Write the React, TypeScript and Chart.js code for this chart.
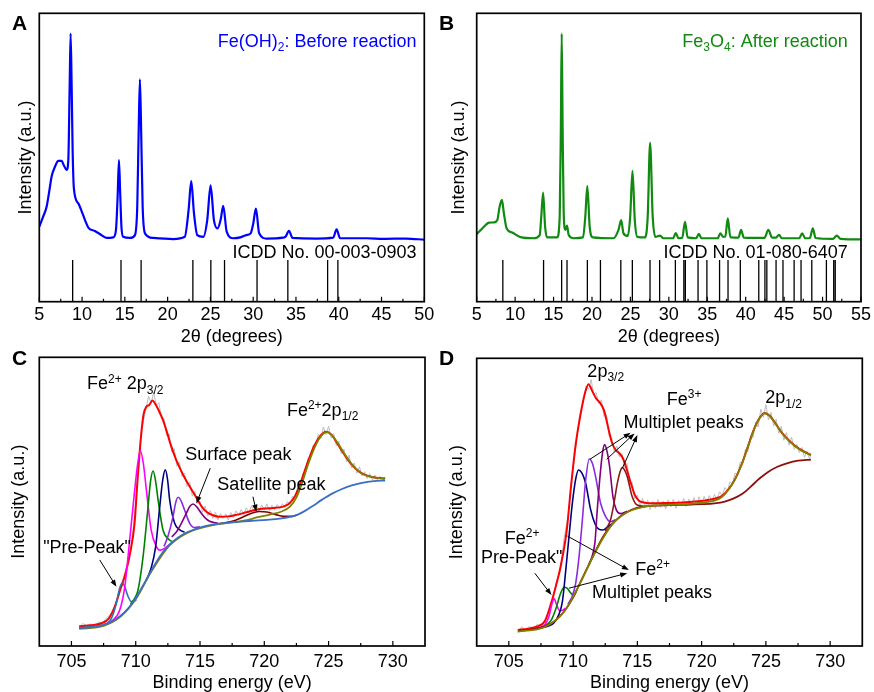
import React, { useEffect, useRef } from 'react';
import { Chart, registerables } from 'chart.js';

Chart.register(...registerables);

const FONT = '"Liberation Sans", Arial, Helvetica, sans-serif';

// ---------------- Panel A : XRD Fe(OH)2 ----------------
const A_TICKS = [5, 10, 15, 20, 25, 30, 35, 40, 45, 50];
const A_MINOR = [7.5, 12.5, 17.5, 22.5, 27.5, 32.5, 37.5, 42.5, 47.5];
const A_CURVE = [
  [5.0, 26.0], [5.45, 29.5], [5.86, 33], [6.2, 39], [6.44, 43.4], [6.83, 46.8], [7.22, 48.8], [7.61, 48.8],
  [7.88, 47.2], [8.19, 45.7], [8.39, 49], [8.55, 75], [8.66, 93], [8.78, 75], [8.9, 52], [9.05, 39],
  [9.56, 34.1], [10.0, 31], [10.34, 28.3], [10.73, 25.7], [11.5, 24.5], [12.1, 23.4], [12.87, 22.1],
  [13.65, 22.3], [13.96, 24.9], [14.15, 36], [14.31, 49.1], [14.45, 38], [14.6, 26], [14.8, 22.5],
  [15.6, 22.1], [16.18, 23.1], [16.45, 33], [16.62, 60], [16.76, 77.1], [16.9, 60], [17.08, 33],
  [17.35, 23.7], [18.3, 22.1], [20.66, 21.7], [22.0, 22.5], [22.45, 31.8], [22.76, 41.8], [23.08, 30.6],
  [23.46, 23.1], [24.17, 22.5], [24.63, 28.3], [25.02, 40.3], [25.41, 28.3], [25.84, 25.4], [26.2, 28.5],
  [26.5, 33.2], [26.9, 24.3], [27.67, 22], [28.6, 22.4], [29.2, 23.1], [29.7, 23.7], [30.0, 27],
  [30.32, 32.3], [30.7, 23.7], [31.57, 21.9], [33.5, 22.2], [33.8, 22.6], [34.18, 24.6], [34.6, 22.1],
  [37.4, 21.9], [39.35, 22.2], [39.75, 25.1], [40.15, 22], [43.3, 22], [45.2, 21.8], [47.9, 21.9], [50, 21.5],
];
const A_STICKS = [8.9, 14.55, 16.9, 22.95, 25.05, 26.65, 30.45, 34.05, 38.7, 39.9];

// ---------------- Panel B : XRD Fe3O4 ----------------
const B_TICKS = [5, 10, 15, 20, 25, 30, 35, 40, 45, 50, 55];
const B_MINOR = [7.5, 12.5, 17.5, 22.5, 27.5, 32.5, 37.5, 42.5, 47.5, 52.5];
const B_CURVE = [
  [5.0, 23.4], [5.5, 24.8], [5.95, 26], [6.6, 27.4], [7.25, 27.5], [7.68, 28.3], [7.98, 32.9], [8.28, 35.3],
  [8.54, 30.6], [8.9, 25.4], [9.62, 24], [10.7, 22.4], [12.43, 22], [13.2, 23.1], [13.4, 29.5], [13.64, 37.8],
  [13.9, 26], [14.16, 22.3], [15.46, 22.3], [15.8, 29.5], [15.95, 60], [16.06, 93], [16.18, 60], [16.32, 30.6],
  [16.54, 24.9], [16.75, 26.4], [16.97, 23.1], [17.6, 22], [18.83, 22.3], [19.13, 29.5], [19.39, 40.1],
  [19.7, 26], [20.1, 22.3], [22.8, 22], [23.45, 24.9], [23.8, 28.3], [24.1, 23.7], [24.66, 22.8],
  [24.97, 29.5], [25.27, 45.4], [25.57, 28.3], [25.9, 22.5], [26.9, 22.3], [27.25, 29.5], [27.56, 55.1],
  [27.9, 29.5], [28.25, 22.5], [28.85, 22.9], [29.3, 22], [30.55, 22], [30.9, 23.8], [31.25, 22],
  [31.75, 22.2], [32.1, 27.7], [32.45, 22.3], [33.55, 22], [33.9, 23.5], [34.25, 22], [36.35, 22],
  [36.7, 23.7], [37.05, 22.5], [37.35, 22.6], [37.67, 28.9], [38.0, 22.4], [39.05, 22.2], [39.4, 24.9],
  [39.75, 22.2], [42.45, 22.1], [42.94, 24.9], [43.45, 22.2], [43.95, 22.2], [44.33, 23.2], [44.7, 22],
  [46.95, 22], [47.35, 23.7], [47.75, 22], [48.35, 22.1], [48.73, 25.4], [49.1, 22.1], [51.35, 21.8],
  [51.85, 22.9], [52.35, 21.8], [55, 21.6],
];
const B_STICKS = [
  8.4, 13.7, 16.05, 16.75, 19.4, 21.1, 23.75, 25.25, 27.55, 28.8, 30.85, 31.95, 32.15, 33.8, 34.95,
  36.6, 37.7, 39.3, 41.7, 42.5, 42.75, 43.95, 44.85, 46.3, 47.2, 48.6, 50.5, 51.45, 51.65,
];
const STICK_HEIGHT = 14.5;

// ---------------- XPS common ----------------
const XPS_TICKS = [705, 710, 715, 720, 725, 730];
const XPS_MINOR = [707.5, 712.5, 717.5, 722.5, 727.5];

// ---------------- Panel C : XPS Fe(OH)2 ----------------
const C_RAW = [
  [705.6, 6.5], [705.9, 7.8], [706.2, 6.9], [706.5, 7.6], [706.8, 7.0], [707.1, 8.3], [707.4, 7.9], [707.7, 9.6],
  [708.0, 10.8], [708.3, 12.6], [708.6, 17.5], [708.9, 21.2], [709.2, 26.1], [709.5, 30.8], [709.8, 40.5],
  [710.1, 55.8], [710.4, 73.5], [710.7, 80.2], [711.0, 86.5], [711.2, 84.1], [711.4, 88.0], [711.6, 83.2],
  [711.8, 84.3], [712.0, 79.1], [712.2, 78.8], [712.4, 72.9], [712.6, 73.5], [712.8, 67.2], [713.0, 68.4],
  [713.2, 62.3], [713.4, 63.8], [713.6, 58.6], [713.8, 59.9], [714.0, 55.2], [714.2, 56.8], [714.4, 51.9],
  [714.6, 53.6], [714.8, 49.4], [715.0, 50.1], [715.2, 46.3], [715.4, 48.5], [715.6, 45.0], [715.8, 46.9],
  [716.0, 44.2], [716.2, 46.3], [716.4, 43.7], [716.6, 45.9], [716.8, 44.1], [717.0, 45.8], [717.2, 43.6],
  [717.4, 46.2], [717.6, 44.5], [717.8, 46.8], [718.0, 45.1], [718.2, 47.3], [718.4, 45.4], [718.6, 47.9],
  [718.8, 46.0], [719.0, 48.6], [719.2, 46.5], [719.4, 49.1], [719.6, 46.7], [719.8, 48.9], [720.0, 47.0],
  [720.2, 49.2], [720.4, 46.8], [720.6, 48.7], [720.8, 47.2], [721.0, 49.0], [721.2, 47.5], [721.4, 49.3],
  [721.6, 48.0], [721.8, 50.1], [722.0, 49.0], [722.2, 51.8], [722.4, 51.0], [722.6, 54.9], [722.8, 55.4],
  [723.0, 59.6], [723.2, 60.8], [723.4, 64.9], [723.6, 65.2], [723.8, 69.6], [724.0, 69.1], [724.2, 73.4],
  [724.4, 71.8], [724.6, 75.9], [724.8, 73.2], [725.0, 76.1], [725.2, 72.0], [725.4, 73.6], [725.6, 69.4],
  [725.8, 70.9], [726.0, 66.5], [726.2, 68.2], [726.4, 63.8], [726.6, 66.1], [726.8, 61.7], [727.0, 63.4],
  [727.2, 59.8], [727.4, 62.1], [727.6, 58.9], [727.8, 60.4], [728.0, 58.0], [728.2, 59.7], [728.4, 57.6],
  [728.6, 59.2], [728.8, 57.5], [729.0, 58.8], [729.2, 57.3], [729.4, 58.5],
];
const C_ENVELOPE = [
  [705.6, 6.8], [706.5, 7.2], [707.3, 7.8], [707.9, 9.5], [708.4, 14], [708.8, 19.5], [709.2, 25], [709.6, 33],
  [709.9, 42], [710.15, 58], [710.4, 72], [710.6, 80], [710.85, 83], [711.05, 83.5], [711.3, 85], [711.5, 84],
  [711.8, 81.5], [712.1, 78.5], [712.4, 74.5], [712.7, 70], [713.1, 65], [713.5, 61], [713.9, 57.5],
  [714.3, 54.5], [714.7, 51.5], [715.1, 48.5], [715.5, 46.5], [716.0, 45.3], [716.5, 44.8], [717.2, 44.9],
  [717.9, 45.5], [718.6, 46.3], [719.3, 47.1], [720.0, 47.6], [720.7, 47.8], [721.4, 48.2], [721.9, 49.2],
  [722.4, 52], [722.9, 57.5], [723.4, 64], [723.9, 69.5], [724.4, 73], [724.8, 74.2], [725.2, 73.3],
  [725.7, 70], [726.2, 66.5], [726.8, 62.8], [727.4, 60.3], [728.0, 59.0], [728.7, 58.3], [729.4, 58.0],
];
const C_BACKGROUND = [
  [705.6, 6.2], [706.5, 6.5], [707.5, 7.3], [708.2, 8.6], [708.8, 10.4], [709.4, 13], [710.0, 16.5], [710.6, 21.2],
  [711.2, 26], [711.9, 31.2], [712.6, 35], [713.3, 37.6], [714.0, 39.4], [714.7, 40.6], [715.4, 41.5],
  [716.2, 42.2], [717.2, 42.7], [718.2, 43.1], [719.2, 43.4], [720.2, 43.7], [721.2, 44.1], [722.0, 44.7],
  [722.6, 45.5], [723.2, 46.9], [723.8, 48.6], [724.5, 50.7], [725.2, 52.6], [726.0, 54.3], [726.8, 55.6],
  [727.6, 56.5], [728.5, 57.1], [729.4, 57.3],
];
const C_PREPEAK = [
  [705.6, 6.3], [707.0, 6.9], [707.8, 7.8], [708.2, 10.5], [708.5, 15], [708.75, 20], [708.95, 21.8],
  [709.15, 20.5], [709.4, 17.2], [709.65, 15.4], [709.9, 15.6], [710.05, 16.1],
];
const C_PEAK1 = [
  [707.5, 7.4], [708.2, 8.9], [708.76, 12.5], [709.15, 20.6], [709.53, 36.7], [709.92, 54], [710.15, 63],
  [710.36, 67.7], [710.6, 63], [710.83, 54], [711.2, 40.2], [711.6, 34.4], [711.9, 33.2], [712.3, 34], [712.6, 35],
];
const C_PEAK2 = [
  [709.6, 14.5], [710.0, 17.2], [710.18, 19.4], [710.57, 30.9], [710.96, 48.3], [711.15, 57], [711.35, 60.6],
  [711.55, 57], [711.74, 50.6], [712.12, 40.2], [712.5, 37.2], [712.8, 36.2],
];
const C_PEAK3 = [
  [710.8, 22.5], [711.2, 27], [711.55, 34.4], [711.87, 48.3], [712.1, 57.5], [712.3, 61], [712.48, 57.5],
  [712.64, 50.6], [713.03, 42.5], [713.4, 40.3], [713.8, 39.4],
];
const C_PEAK4 = [
  [712.2, 34.5], [712.5, 37.9], [712.9, 44.8], [713.1, 49.5], [713.29, 51.5], [713.5, 50.5], [713.8, 47.1],
  [714.2, 42.5], [714.6, 41], [715.0, 41.3],
];
const C_SURFACE = [
  [712.8, 37.8], [713.16, 39.5], [713.55, 42.5], [713.94, 46], [714.2, 48.3], [714.46, 49.2], [714.75, 48.2],
  [715.1, 46], [715.4, 44.4], [715.75, 43.2], [716.4, 42.5],
];
const C_SATELLITE = [
  [716.5, 42.4], [717.5, 43.2], [718.3, 44.6], [719.0, 46], [719.6, 46.6], [720.2, 46.4], [720.9, 45.5],
  [721.5, 44.9], [722.2, 44.9], [722.6, 45.5],
];
const C_P12 = [
  [705.6, 5.9], [707.5, 7.0], [708.8, 10.1], [710.0, 16.2], [711.2, 25.7], [712.6, 34.7], [714.0, 39.2],
  [715.4, 41.3], [716.5, 42.3], [717.5, 42.8], [718.5, 43.5], [719.5, 44.6], [720.5, 45.6], [721.3, 46.5],
  [722.0, 48.3], [722.5, 51.5], [723.0, 57.3], [723.4, 62.8], [723.8, 67.5], [724.2, 71.3], [724.6, 73.6],
  [724.85, 74.1], [725.2, 73.3], [725.7, 70.4], [726.2, 66.8], [726.8, 63], [727.4, 60.4], [728.0, 58.9],
  [728.7, 58.2], [729.4, 58.0],
];

// ---------------- Panel D : XPS Fe3O4 ----------------
const D_RAW = [
  [705.7, 4.6], [706.0, 6.7], [706.3, 5.4], [706.6, 6.9], [706.9, 5.8], [707.2, 7.5], [707.5, 6.9], [707.8, 9.1],
  [708.1, 11.2], [708.4, 15.8], [708.7, 22.4], [709.0, 26.1], [709.3, 37.5], [709.6, 44.9], [709.9, 58.3],
  [710.2, 68.7], [710.5, 80.1], [710.8, 84.9], [711.0, 90.4], [711.2, 89.2], [711.4, 92.6], [711.6, 87.5],
  [711.8, 88.1], [712.0, 84.2], [712.2, 85.6], [712.4, 79.8], [712.6, 80.3], [712.8, 73.1], [713.0, 72.6],
  [713.2, 67.4], [713.4, 69.5], [713.6, 65.8], [713.8, 66.9], [714.0, 62.1], [714.2, 63.5], [714.4, 56.3],
  [714.6, 56.9], [714.8, 51.2], [715.0, 52.4], [715.2, 48.6], [715.4, 51.3], [715.6, 48.1], [715.8, 50.7],
  [716.0, 47.4], [716.2, 50.2], [716.4, 47.9], [716.6, 50.9], [716.8, 48.2], [717.0, 50.4], [717.2, 47.6],
  [717.4, 50.8], [717.6, 48.3], [717.8, 51.0], [718.0, 47.9], [718.2, 50.6], [718.4, 48.7], [718.6, 51.3],
  [718.8, 48.5], [719.0, 51.1], [719.2, 48.9], [719.4, 51.6], [719.6, 49.0], [719.8, 51.9], [720.0, 49.4],
  [720.2, 52.0], [720.4, 49.8], [720.6, 52.3], [720.8, 50.4], [721.0, 52.7], [721.2, 51.0], [721.4, 53.6],
  [721.6, 52.2], [721.8, 55.1], [722.0, 53.8], [722.2, 57.0], [722.4, 56.4], [722.6, 60.1], [722.8, 59.5],
  [723.0, 63.9], [723.2, 63.2], [723.4, 68.4], [723.6, 67.6], [723.8, 73.0], [724.0, 72.4], [724.2, 77.8],
  [724.4, 76.1], [724.6, 82.3], [724.8, 79.5], [725.0, 83.9], [725.2, 78.6], [725.4, 81.2], [725.6, 76.4],
  [725.8, 78.8], [726.0, 73.9], [726.2, 76.3], [726.4, 71.5], [726.6, 74.2], [726.8, 69.8], [727.0, 72.6],
  [727.2, 68.4], [727.4, 70.1], [727.6, 67.2], [727.8, 69.0], [728.0, 65.6], [728.2, 67.7], [728.4, 64.9],
  [728.5, 66.8],
];
const D_ENVELOPE = [
  [705.7, 5.6], [706.5, 6.0], [707.2, 6.8], [707.8, 8.6], [708.3, 15], [708.7, 21.5], [709.0, 27], [709.5, 40],
  [709.85, 56], [710.2, 70], [710.6, 81], [710.9, 87.5], [711.2, 91], [711.5, 88.5], [711.8, 86], [712.1, 84.5],
  [712.4, 82], [712.7, 76.5], [713.0, 71], [713.3, 68.2], [713.6, 67], [713.9, 65], [714.2, 61], [714.5, 56.5],
  [714.8, 52.5], [715.1, 50.6], [715.5, 49.9], [716.2, 49.6], [717.3, 49.7], [718.5, 49.9], [719.5, 50.2],
  [720.3, 50.6], [721.0, 51.2], [721.6, 52.2], [722.1, 54.5], [722.6, 58], [723.1, 63], [723.6, 69.3],
  [724.0, 74.5], [724.4, 78.5], [724.9, 81], [725.3, 80], [725.8, 77], [726.3, 73.8], [726.9, 71],
  [727.6, 68.5], [728.5, 66.4],
];
const D_BACKGROUND = [
  [705.7, 5.2], [706.8, 5.8], [707.8, 6.8], [708.6, 8.8], [709.3, 12], [710.0, 16.8], [710.6, 22.5], [711.2, 28],
  [711.8, 33.5], [712.4, 38.5], [713.0, 42.2], [713.6, 44.8], [714.2, 46.6], [714.9, 47.9], [715.6, 48.5],
  [716.4, 48.8], [717.5, 49.0], [718.8, 49.1], [720.0, 49.3], [721.0, 49.6], [721.8, 50.2], [722.5, 51.3],
  [723.2, 53], [723.8, 55.3], [724.5, 58.2], [725.2, 60.6], [725.9, 62.3], [726.7, 63.6], [727.5, 64.4],
  [728.5, 64.8],
];
const D_PREPEAK = [
  [707.0, 6.2], [707.7, 7], [708.1, 10], [708.35, 14.5], [708.52, 16.5], [708.7, 14.5], [708.95, 12.3],
  [709.2, 12.4], [709.4, 13.2],
];
const D_FE2_PEAK = [
  [707.8, 6.9], [708.3, 9], [708.7, 13.5], [709.0, 18], [709.3, 20.4], [709.55, 20], [709.8, 18.5],
  [710.05, 17.6], [710.3, 19.6],
];
const D_PEAK1 = [
  [707.5, 6.3], [708.5, 8], [708.9, 11], [709.17, 15.5], [709.43, 26.4], [709.68, 38], [709.94, 49.6],
  [710.2, 58], [710.42, 61.2], [710.7, 60], [710.98, 56.5], [711.37, 47.3], [711.7, 42.5], [712.0, 40.6],
  [712.3, 40.3], [712.7, 41.5], [713.0, 42.4],
];
const D_PEAK2 = [
  [709.6, 14.5], [709.95, 17.5], [710.2, 21.8], [710.46, 31], [710.72, 43.8], [710.98, 57.7], [711.26, 65],
  [711.5, 63.5], [711.75, 58.9], [712.14, 49.6], [712.53, 45], [712.92, 43.2], [713.3, 43.9],
];
const D_PEAK3 = [
  [711.2, 28], [711.5, 31.5], [711.7, 36], [711.88, 47.3], [712.14, 61.2], [712.3, 67.5], [712.45, 70],
  [712.65, 67.5], [712.84, 62.3], [713.1, 51.9], [713.36, 47.3], [713.7, 46], [714.2, 46.8],
];
const D_PEAK4 = [
  [712.5, 40], [712.92, 44], [713.18, 49.6], [713.44, 56.5], [713.65, 60.5], [713.83, 62], [714.0, 61.2],
  [714.21, 58.9], [714.6, 51.9], [714.99, 49], [715.5, 48.6],
];
const D_P12 = [
  [705.7, 5.0], [707.8, 6.6], [709.3, 11.9], [710.6, 22.3], [711.8, 33.3], [713.0, 42], [714.2, 46.5],
  [715.6, 48.5], [716.5, 48.9], [717.5, 49.1], [718.5, 49.3], [719.5, 49.6], [720.3, 50], [721.0, 50.5],
  [721.6, 51.9], [722.1, 54.4], [722.6, 57.9], [723.1, 62.9], [723.6, 69.2], [724.0, 74.4], [724.4, 78.4],
  [724.9, 80.9], [725.3, 79.9], [725.8, 76.9], [726.3, 73.7], [726.9, 70.9], [727.6, 68.4], [728.5, 66.3],
];

// ---------------- helpers ----------------
const line = (pts: number[][], color: string, width: number, smooth = true) => ({
  data: pts.map(([x, y]) => ({ x, y })),
  borderColor: color,
  borderWidth: width,
  pointRadius: 0,
  fill: false,
  tension: 0,
  cubicInterpolationMode: smooth ? 'monotone' : 'default',
  spanGaps: false,
});

const sticks = (pos: number[]) => ({
  data: pos.flatMap((x) => [{ x, y: 0 }, { x, y: STICK_HEIGHT }, { x, y: null }]),
  borderColor: '#000',
  borderWidth: 1.3,
  pointRadius: 0,
  fill: false,
  tension: 0,
  spanGaps: false,
});

type Seg = { t: string; s?: 'sup' | 'sub' };
type TextSpec = { x: number; y: number; segs: Seg[]; align?: 'left' | 'right'; color?: string };
type ArrowSpec = { x1: number; y1: number; x2: number; y2: number };

function drawRich(ctx: CanvasRenderingContext2D, segs: Seg[], x: number, y: number, align: string, color: string) {
  const size = 18;
  const small = 12;
  let w = 0;
  for (const s of segs) {
    ctx.font = `${s.s ? small : size}px ${FONT}`;
    w += ctx.measureText(s.t).width;
  }
  let cx = align === 'right' ? x - w : x;
  ctx.fillStyle = color;
  ctx.textBaseline = 'alphabetic';
  ctx.textAlign = 'left';
  for (const s of segs) {
    ctx.font = `${s.s ? small : size}px ${FONT}`;
    const dy = s.s === 'sup' ? -6.5 : s.s === 'sub' ? 4.5 : 0;
    ctx.fillText(s.t, cx, y + dy);
    cx += ctx.measureText(s.t).width;
  }
}

function drawArrow(ctx: CanvasRenderingContext2D, x1: number, y1: number, x2: number, y2: number) {
  const ang = Math.atan2(y2 - y1, x2 - x1);
  const len = 7;
  const hw = 2.6;
  ctx.strokeStyle = '#000';
  ctx.lineWidth = 1;
  ctx.beginPath();
  ctx.moveTo(x1, y1);
  ctx.lineTo(x2 - Math.cos(ang) * len * 0.8, y2 - Math.sin(ang) * len * 0.8);
  ctx.stroke();
  ctx.fillStyle = '#000';
  ctx.beginPath();
  ctx.moveTo(x2, y2);
  ctx.lineTo(x2 - Math.cos(ang) * len - Math.sin(ang) * hw, y2 - Math.sin(ang) * len + Math.cos(ang) * hw);
  ctx.lineTo(x2 - Math.cos(ang) * len + Math.sin(ang) * hw, y2 - Math.sin(ang) * len - Math.cos(ang) * hw);
  ctx.closePath();
  ctx.fill();
}

const decor = (spec: any) => ({
  id: 'decor',
  afterDraw(chart: any) {
    const { ctx, chartArea: a } = chart;
    const xs = chart.scales.x;
    const ys = chart.scales.y;
    ctx.save();
    ctx.strokeStyle = '#000';
    ctx.lineWidth = 1.7;
    ctx.strokeRect(a.left, a.top, a.right - a.left, a.bottom - a.top);
    ctx.lineWidth = 1.2;
    ctx.beginPath();
    for (const v of spec.xTicks) {
      const p = xs.getPixelForValue(v);
      ctx.moveTo(p, a.bottom);
      ctx.lineTo(p, a.bottom - 5);
    }
    for (const v of spec.xMinor) {
      const p = xs.getPixelForValue(v);
      ctx.moveTo(p, a.bottom);
      ctx.lineTo(p, a.bottom - 3);
    }
    ctx.stroke();
    for (const ar of spec.arrows as ArrowSpec[]) {
      drawArrow(ctx, xs.getPixelForValue(ar.x1), ys.getPixelForValue(ar.y1), xs.getPixelForValue(ar.x2), ys.getPixelForValue(ar.y2));
    }
    for (const t of spec.texts as TextSpec[]) {
      drawRich(ctx, t.segs, xs.getPixelForValue(t.x), ys.getPixelForValue(t.y), t.align || 'left', t.color || '#000');
    }
    ctx.fillStyle = '#000';
    ctx.font = `bold 21px ${FONT}`;
    ctx.textAlign = 'left';
    ctx.textBaseline = 'alphabetic';
    ctx.fillText(spec.letter, spec.letterX, spec.letterY);
    ctx.restore();
  },
});

function buildConfig(spec: any) {
  return {
    type: 'line',
    data: { datasets: spec.datasets },
    options: {
      animation: false,
      responsive: false,
      maintainAspectRatio: false,
      events: [],
      layout: { padding: { left: 0, top: spec.padTop, right: spec.padRight, bottom: 0 } },
      plugins: { legend: { display: false }, tooltip: { enabled: false }, title: { display: false } },
      scales: {
        x: {
          type: 'linear',
          position: 'bottom',
          min: spec.xMin,
          max: spec.xMax,
          grid: { display: false, drawTicks: false },
          border: { display: false },
          ticks: {
            color: '#000',
            font: { family: FONT, size: 18, lineHeight: 1.2 },
            padding: spec.xTickPad,
            maxRotation: 0,
            autoSkip: false,
          },
          afterBuildTicks: (s: any) => {
            s.ticks = spec.xTicks.map((v: number) => ({ value: v }));
          },
          title: {
            display: true,
            text: spec.xTitle,
            color: '#000',
            font: { family: FONT, size: 18, lineHeight: 1 },
            padding: { top: 0, bottom: spec.xTitlePad },
          },
          afterFit: (s: any) => {
            s.height = spec.xAxisHeight;
          },
        },
        y: {
          type: 'linear',
          position: 'left',
          min: 0,
          max: 100,
          grid: { display: false, drawTicks: false },
          border: { display: false },
          ticks: { display: false },
          title: {
            display: true,
            text: 'Intensity (a.u.)',
            color: '#000',
            font: { family: FONT, size: 18, lineHeight: 1 },
            padding: { top: spec.yTitlePad, bottom: 0 },
          },
          afterFit: (s: any) => {
            s.width = spec.yAxisWidth;
          },
        },
      },
    },
    plugins: [decor(spec)],
  };
}

// ---------------- panel specs ----------------
const SPEC_A = {
  left: 0, top: 0, width: 440, height: 350,
  padTop: 13.3, padRight: 15.7, yAxisWidth: 39.3, xAxisHeight: 48.3,
  xMin: 5, xMax: 50, xTicks: A_TICKS, xMinor: A_MINOR,
  xTitle: '2θ (degrees)', xTickPad: 3, xTitlePad: 3.5, yTitlePad: 16.8,
  letter: 'A', letterX: 12, letterY: 30,
  datasets: [line(A_CURVE, '#0000ff', 2.2), sticks(A_STICKS)],
  texts: [
    { x: 49.1, y: 88.4, align: 'right', color: '#0000ff', segs: [{ t: 'Fe(OH)' }, { t: '2', s: 'sub' }, { t: ': Before reaction' }] },
    { x: 49.1, y: 15.2, align: 'right', segs: [{ t: 'ICDD No. 00-003-0903' }] },
  ],
  arrows: [],
};

const SPEC_B = {
  left: 434, top: 0, width: 440, height: 350,
  padTop: 13.3, padRight: 11.7, yAxisWidth: 42.7, xAxisHeight: 48.3,
  xMin: 5, xMax: 55, xTicks: B_TICKS, xMinor: B_MINOR,
  xTitle: '2θ (degrees)', xTickPad: 3, xTitlePad: 3.5, yTitlePad: 16,
  letter: 'B', letterX: 5, letterY: 30,
  datasets: [line(B_CURVE, '#108a10', 2.2), sticks(B_STICKS)],
  texts: [
    { x: 53.27, y: 88.4, align: 'right', color: '#108a10', segs: [{ t: 'Fe' }, { t: '3', s: 'sub' }, { t: 'O' }, { t: '4', s: 'sub' }, { t: ': After reaction' }] },
    { x: 53.27, y: 15.2, align: 'right', segs: [{ t: 'ICDD No. 01-080-6407' }] },
  ],
  arrows: [],
};

const SPEC_C = {
  left: 0, top: 346, width: 440, height: 346,
  padTop: 11.3, padRight: 15, yAxisWidth: 39.3, xAxisHeight: 46,
  xMin: 702.5, xMax: 732.5, xTicks: XPS_TICKS, xMinor: XPS_MINOR,
  xTitle: 'Binding energy (eV)', xTickPad: 5, xTitlePad: 0, yTitlePad: 10.5,
  letter: 'C', letterX: 12, letterY: 19,
  datasets: [
    line(C_BACKGROUND, '#3a6fc2', 1.8),
    line(C_P12, '#808000', 1.8),
    line(C_SATELLITE, '#800000', 1.6),
    line(C_SURFACE, '#800080', 1.6),
    line(C_PEAK4, '#8a2be2', 1.6),
    line(C_PEAK3, '#000080', 1.6),
    line(C_PEAK2, '#008000', 1.6),
    line(C_PEAK1, '#ff00ff', 1.6),
    line(C_PREPEAK, '#2f70b0', 1.6),
    line(C_ENVELOPE, '#ff0000', 2),
    line(C_RAW, '#bdbdbd', 1, false),
  ],
  texts: [
    { x: 706.21, y: 88.9, segs: [{ t: 'Fe' }, { t: '2+', s: 'sup' }, { t: ' 2p' }, { t: '3/2', s: 'sub' }] },
    { x: 721.76, y: 79.7, segs: [{ t: 'Fe' }, { t: '2+', s: 'sup' }, { t: '2p' }, { t: '1/2', s: 'sub' }] },
    { x: 713.86, y: 64.4, segs: [{ t: 'Surface peak' }] },
    { x: 716.35, y: 54.0, segs: [{ t: 'Satellite peak' }] },
    { x: 702.8, y: 32.1, segs: [{ t: '"Pre-Peak"' }] },
  ],
  arrows: [
    { x1: 715.8, y1: 61.6, x2: 714.72, y2: 49.4 },
    { x1: 719.12, y1: 51.7, x2: 719.38, y2: 46.5 },
    { x1: 707.2, y1: 29.8, x2: 708.5, y2: 20.5 },
  ],
};

const SPEC_D = {
  left: 434, top: 346, width: 440, height: 346,
  padTop: 12.3, padRight: 11.7, yAxisWidth: 42.7, xAxisHeight: 46,
  xMin: 702.5, xMax: 732.5, xTicks: XPS_TICKS, xMinor: XPS_MINOR,
  xTitle: 'Binding energy (eV)', xTickPad: 5, xTitlePad: 0, yTitlePad: 13.8,
  letter: 'D', letterX: 5, letterY: 19,
  datasets: [
    line(D_P12, '#808000', 1.8),
    line(D_BACKGROUND, '#8b1010', 1.8),
    line(D_PEAK4, '#8b1a1a', 1.6),
    line(D_PEAK3, '#800080', 1.6),
    line(D_PEAK2, '#8a2be2', 1.6),
    line(D_PEAK1, '#000080', 1.6),
    line(D_FE2_PEAK, '#008000', 1.6),
    line(D_PREPEAK, '#ff00ff', 1.6),
    line(D_ENVELOPE, '#ff0000', 2),
    line(D_RAW, '#bdbdbd', 1, false),
  ],
  texts: [
    { x: 711.11, y: 93.6, segs: [{ t: '2p' }, { t: '3/2', s: 'sub' }] },
    { x: 717.29, y: 83.8, segs: [{ t: 'Fe' }, { t: '3+', s: 'sup' }] },
    { x: 713.93, y: 75.7, segs: [{ t: 'Multiplet peaks' }] },
    { x: 724.95, y: 84.4, segs: [{ t: '2p' }, { t: '1/2', s: 'sub' }] },
    { x: 704.69, y: 35.5, segs: [{ t: 'Fe' }, { t: '2+', s: 'sup' }] },
    { x: 702.83, y: 29.0, segs: [{ t: 'Pre-Peak"' }] },
    { x: 714.84, y: 24.7, segs: [{ t: 'Fe' }, { t: '2+', s: 'sup' }] },
    { x: 711.47, y: 16.6, segs: [{ t: 'Multiplet peaks' }] },
  ],
  arrows: [
    { x1: 711.31, y1: 64.9, x2: 714.47, y2: 74.1 },
    { x1: 712.61, y1: 64.9, x2: 714.78, y2: 73.9 },
    { x1: 713.83, y1: 61.8, x2: 715.0, y2: 73.3 },
    { x1: 707.02, y1: 25.3, x2: 708.32, y2: 17.7 },
    { x1: 709.56, y1: 38.2, x2: 714.34, y2: 26.4 },
    { x1: 709.68, y1: 20.1, x2: 714.21, y2: 25.3 },
  ],
};

function Panel({ spec }: { spec: any }) {
  const ref = useRef<HTMLCanvasElement | null>(null);
  useEffect(() => {
    if (!ref.current) return;
    const chart = new Chart(ref.current, buildConfig(spec) as any);
    return () => chart.destroy();
  }, [spec]);
  return (
    <canvas
      ref={ref}
      width={spec.width}
      height={spec.height}
      style={{ position: 'absolute', left: spec.left, top: spec.top, width: spec.width, height: spec.height }}
    />
  );
}

export default function App() {
  return (
    <div style={{ position: 'absolute', left: 0, top: 0, width: 874, height: 692, overflow: 'hidden', background: '#fff' }}>
      <Panel spec={SPEC_A} />
      <Panel spec={SPEC_B} />
      <Panel spec={SPEC_C} />
      <Panel spec={SPEC_D} />
    </div>
  );
}
